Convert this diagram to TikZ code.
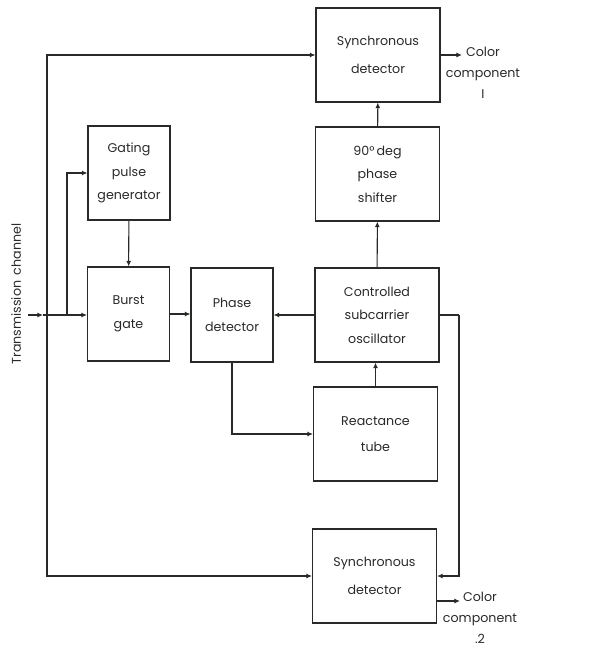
\documentclass[tikz,border=0pt]{standalone}
\usepackage{fontspec}
\setmainfont{Poppins}
\usepackage{tikz}
\usetikzlibrary{arrows.meta,positioning,calc}
\definecolor{ink}{RGB}{40,42,40}
\tikzset{
  blockbig/.style={draw=ink, line width=0.9pt, fill=white, align=center,
    minimum width=3.72cm, minimum height=2.82cm, inner sep=2pt,
    font=\fontsize{10.8}{20}\selectfont, text=ink},
  blocksmall/.style={blockbig, minimum width=2.46cm},
  sig/.style={draw=ink, line width=0.9pt, -{Latex[length=1.7mm,width=1.5mm]}},
  wire/.style={draw=ink, line width=0.9pt},
  outlbl/.style={align=center, inner sep=0pt, text=ink,
    font=\fontsize{10.8}{18}\selectfont}
}
\begin{document}
\begin{tikzpicture}[x=0.03cm, y=-0.03cm]
    \useasboundingbox (0,0) rectangle (607,648);
    % blocks
    \node[blockbig] (syncA) at (378,55) {Synchronous\\[4pt]detector};
    \node[blockbig] (shifter) at (377.5,174) {90\textdegree\,deg\\phase\\shifter};
    \node[blocksmall] (gating) at (129,173) {Gating\\pulse\\generator};
    \node[blocksmall] (burst) at (128.5,314) {Burst\\gate};
    \node[blocksmall] (phase) at (232,315) {Phase\\detector};
    \node[blockbig] (osc) at (377,315) {Controlled\\subcarrier\\oscillator};
    \node[blockbig] (react) at (375.5,434) {Reactance\\[2pt]tube};
    \node[blockbig] (syncB) at (374.5,576) {Synchronous\\[4pt]detector};

    % input side
    \node[rotate=90, text=ink, font=\fontsize{10.8}{12}\selectfont] (chan) at (16,294) {Transmission\ \,channel};
    \coordinate (in) at (28,315);
    \coordinate (tip) at (43,315);
    \coordinate (jA) at (47,315);
    \coordinate (jB) at (67,315);
    \draw[sig] (in) -- (tip);
    \draw[wire] (tip) -- (jA);
    \draw[sig] (jA) -- (burst.west |- jA);
    \draw[sig] (jB) |- (gating.west);
    \draw[sig] (jA) |- (syncA.west);
    \draw[sig] (jA) |- (syncB.west);

    % main chain
    \draw[sig] (gating) -- (burst);
    \draw[sig] (burst.east) -- (burst.east -| phase.west);
    \draw[sig] (osc.west) -- (osc.west -| phase.east);
    \draw[sig] (osc) -- (shifter);
    \draw[sig] (shifter) -- (syncA);
    \draw[sig] (react) -- (osc.south -| react.north);
    \draw[sig] (phase.south) |- (react.west);
    \coordinate (rt) at (459,315);
    \draw[wire] (osc.east) -- (rt);
    \draw[sig] (rt) |- (syncB.east);

    % outputs
    \coordinate (o1) at (462,55);
    \coordinate (o2e) at (460,601);
    \coordinate (o2) at (syncB.east |- o2e);
    \draw[sig] (syncA.east) -- (o1);
    \draw[sig] (o2) -- (o2e);
    \node[outlbl, anchor=north] (col1) at (483,47) {Color\\component\\I};
    \node[outlbl, anchor=north] (col2) at (480,592) {Color\\component\\.2};
\end{tikzpicture}
\end{document}
